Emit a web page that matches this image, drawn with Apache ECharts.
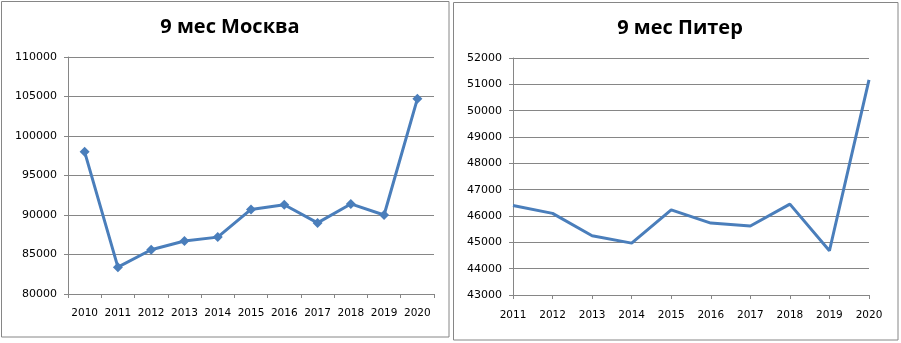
<!DOCTYPE html>
<html><head><meta charset="utf-8">
<script src="https://cdn.jsdelivr.net/npm/echarts@6/dist/echarts.min.js"></script>
<style>html,body{margin:0;padding:0;background:#fff}#c{width:901px;height:343px}</style>
</head><body><div id="c"></div>
<script>
var titleMsk = '9 мес Москва';
var titleSpb = '9 мес Питер';
var yearsMsk = ['2010','2011','2012','2013','2014','2015','2016','2017','2018','2019','2020'];
var valuesMsk = [98000,83400,85600,86700,87200,90700,91300,89000,91400,90000,104700];
var yearsSpb = ['2011','2012','2013','2014','2015','2016','2017','2018','2019','2020'];
var valuesSpb = [46400,46100,45250,44970,46230,45730,45620,46450,44680,51170];

var gray = '#868686';
var blue = '#4A7EBB';
var lblFont = 'DejaVu Sans';
var plain = function (v) { return String(v); };
var chart = echarts.init(document.getElementById('c'), null, {renderer:'canvas'});
chart.setOption({
  animation:false,
  backgroundColor:'#fff',
  graphic:[
    {type:'rect', shape:{x:1.5,y:1.5,width:447.5,height:335.5}, style:{fill:'none',stroke:gray,lineWidth:1}},
    {type:'rect', shape:{x:453.5,y:2.5,width:444.5,height:337.5}, style:{fill:'none',stroke:gray,lineWidth:1}}
  ],
  title:[
    {text:titleMsk, left:225, top:12, textAlign:'center', textStyle:{fontFamily:'Open Sans',fontWeight:'bold',fontSize:20,color:'#000'}},
    {text:titleSpb, left:675, top:13, textAlign:'center', textStyle:{fontFamily:'Open Sans',fontWeight:'bold',fontSize:20,color:'#000'}}
  ],
  grid:[
    {left:68, top:57, width:366, height:237},
    {left:513, top:58, width:356, height:237}
  ],
  xAxis:[
    {type:'category', gridIndex:0, data:yearsMsk, boundaryGap:true,
     axisLine:{lineStyle:{color:gray,width:1}},
     axisTick:{show:true,length:4,interval:0,lineStyle:{color:gray}},
     axisLabel:{interval:0,margin:14,color:'#000',fontFamily:lblFont,fontSize:10.5}},
    {type:'category', gridIndex:1, data:yearsSpb, boundaryGap:false,
     axisLine:{lineStyle:{color:gray,width:1}},
     axisTick:{show:true,length:4,interval:0,lineStyle:{color:gray}},
     axisLabel:{interval:0,margin:15,color:'#000',fontFamily:lblFont,fontSize:10.5}}
  ],
  yAxis:[
    {type:'value', gridIndex:0, min:80000, max:110000, interval:5000,
     axisLine:{show:true,lineStyle:{color:gray,width:1}},
     axisTick:{show:true,length:4,lineStyle:{color:gray}},
     splitLine:{lineStyle:{color:gray,width:1}},
     axisLabel:{margin:11,color:'#000',fontFamily:lblFont,fontSize:11,formatter:plain}},
    {type:'value', gridIndex:1, min:43000, max:52000, interval:1000,
     axisLine:{show:true,lineStyle:{color:gray,width:1}},
     axisTick:{show:true,length:4,lineStyle:{color:gray}},
     splitLine:{lineStyle:{color:gray,width:1}},
     axisLabel:{margin:11,color:'#000',fontFamily:lblFont,fontSize:11,formatter:plain}}
  ],
  series:[
    {type:'line', xAxisIndex:0, yAxisIndex:0, data:valuesMsk, symbol:'diamond', symbolSize:10,
     lineStyle:{color:blue,width:3}, itemStyle:{color:blue}},
    {type:'line', xAxisIndex:1, yAxisIndex:1, data:valuesSpb, symbol:'none',
     lineStyle:{color:blue,width:3}, itemStyle:{color:blue}}
  ]
});
</script></body></html>
